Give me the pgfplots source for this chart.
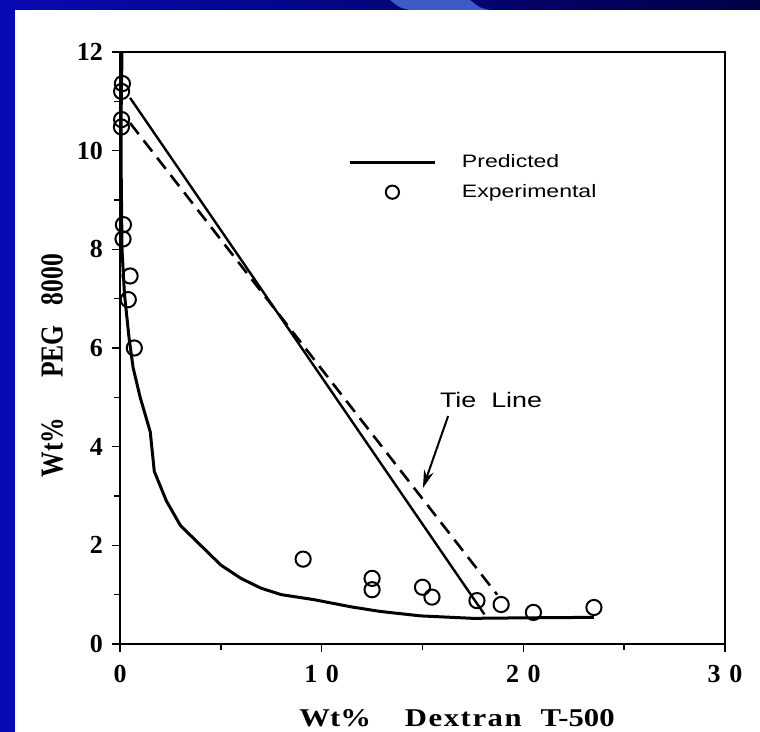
\documentclass[border=0pt]{standalone}
\usepackage{fontspec}
\setmainfont{Liberation Serif}
\newfontfamily\helv{Liberation Sans}[FakeStretch=1.28]
\newfontfamily\xlabfont{Liberation Serif}[FakeStretch=1.2]
\newfontfamily\ylabfont{Liberation Serif}[FakeStretch=0.8]
\usepackage{pgfplots}
\pgfplotsset{compat=1.18}
\usetikzlibrary{arrows.meta}

\definecolor{slideblue}{RGB}{10,10,180}
\definecolor{slidenavy}{RGB}{0,0,70}
\definecolor{slidelight}{RGB}{60,90,200}

% binodal curve (predicted)
\pgfplotstableread{
x y
0.10 12.00
0.05 10.60
0.06 9.50
0.10 8.00
0.22 7.10
0.45 6.20
0.65 5.60
1.00 5.00
1.50 4.30
1.70 3.50
2.30 2.90
3.00 2.40
4.00 2.00
5.00 1.60
6.00 1.33
7.00 1.13
8.00 1.00
9.60 0.90
11.50 0.75
12.90 0.66
14.90 0.57
17.50 0.52
20.00 0.53
23.50 0.54
}\binodal

% experimental points
\pgfplotstableread{
x y
0.12 11.36
0.08 11.20
0.08 10.63
0.07 10.48
0.17 8.50
0.15 8.21
0.50 7.46
0.41 6.98
0.71 6.00
9.08 1.72
12.50 1.33
12.50 1.10
15.00 1.15
15.47 0.95
17.70 0.88
18.90 0.80
20.50 0.64
23.50 0.74
}\expdata

\begin{document}
\begin{tikzpicture}
% slide background
\fill[slideblue] (0,0) rectangle (380pt,366pt);
\shade[left color=slideblue, right color=slidenavy] (0,360pt) rectangle (380pt,366pt);
\fill[slidelight] (195pt,366pt) .. controls (200pt,362pt) .. (205pt,361pt) -- (245pt,361pt) .. controls (240pt,362pt) .. (235pt,366pt) -- cycle;
\fill[white] (7.5pt,0) rectangle (380pt,361pt);

\begin{axis}[
    at={(60pt,44pt)}, anchor=south west,
    scale only axis,
    width=302.5pt, height=296pt,
    xmin=0, xmax=30, ymin=0, ymax=12,
    axis line style={line width=1.1pt},
    xtick={0,10,20,30},
    xticklabels={0,1\,\,0,2\,\,0,3\,\,0},
    ytick={0,2,4,6,8,10,12},
    minor x tick num=1,
    minor y tick num=1,
    xtick pos=bottom, ytick pos=left,
    tick align=outside,
    major tick length=4pt, minor tick length=3pt,
    tick style={line width=0.8pt, black},
    /pgf/number format/assume math mode=true,
    tick label style={font=\fontsize{13}{15}\selectfont\bfseries},
    xticklabel style={yshift=-3pt},
    yticklabel style={xshift=-1pt},
    xlabel={Wt\%\hspace{17pt}{\addfontfeature{LetterSpace=6}Dextran}\hspace{9.5pt}T-500},
    ylabel={Wt\%\hspace{20pt}PEG\hspace{10pt}8000},
    xlabel style={font=\xlabfont\fontsize{12.8}{15}\selectfont\bfseries,
        at={(axis description cs:0.557,-0.125)}, anchor=center},
    ylabel style={font=\ylabfont\fontsize{16}{18}\selectfont\bfseries,
        at={(axis description cs:-0.112,0.47)}, anchor=center},
    legend style={draw=none, fill=none, at={(axis cs:11.0,10.1)}, anchor=north west,
        font=\helv\fontsize{9}{10}\selectfont, row sep=3pt,
        nodes={inner xsep=7pt}},
    legend cell align=left,
]
\addplot[black, line width=1.5pt,
    legend image code/.code={\draw[black, line width=1.5pt] (-0.35cm,0cm) -- (1.15cm,0cm); \path (1.35cm,0cm);}]
    table[x=x,y=y] {\binodal};
\addlegendentry{Predicted}
\addplot[only marks, mark=o, mark size=3.8pt, mark options={line width=1pt, fill=white, black},
    legend image code/.code={\draw[black, line width=1pt] plot[only marks, mark=o, mark size=3.3pt] coordinates {(0.4cm,0cm)};}]
    table[x=x,y=y] {\expdata};
\addlegendentry{Experimental}
% tie lines
\addplot[black, line width=1.2pt, forget plot] coordinates {(0.5,11.07) (18.07,0.60)};
\addplot[black, line width=1.3pt, dash pattern=on 7pt off 4pt, forget plot] coordinates {(0.5,10.56) (18.7,1.00)};
% annotation
\node[font=\helv\fontsize{10.5}{12}\selectfont] at (axis cs:18.4,4.95) {Tie\ \ Line};
\draw[black, line width=1pt, -{Stealth[length=9pt, width=5pt]}] (axis cs:16.27,4.62) -- (axis cs:15.02,3.16);
\end{axis}
\pgfresetboundingbox
\useasboundingbox (0,0) rectangle (380pt,366pt);
\end{tikzpicture}
\end{document}
